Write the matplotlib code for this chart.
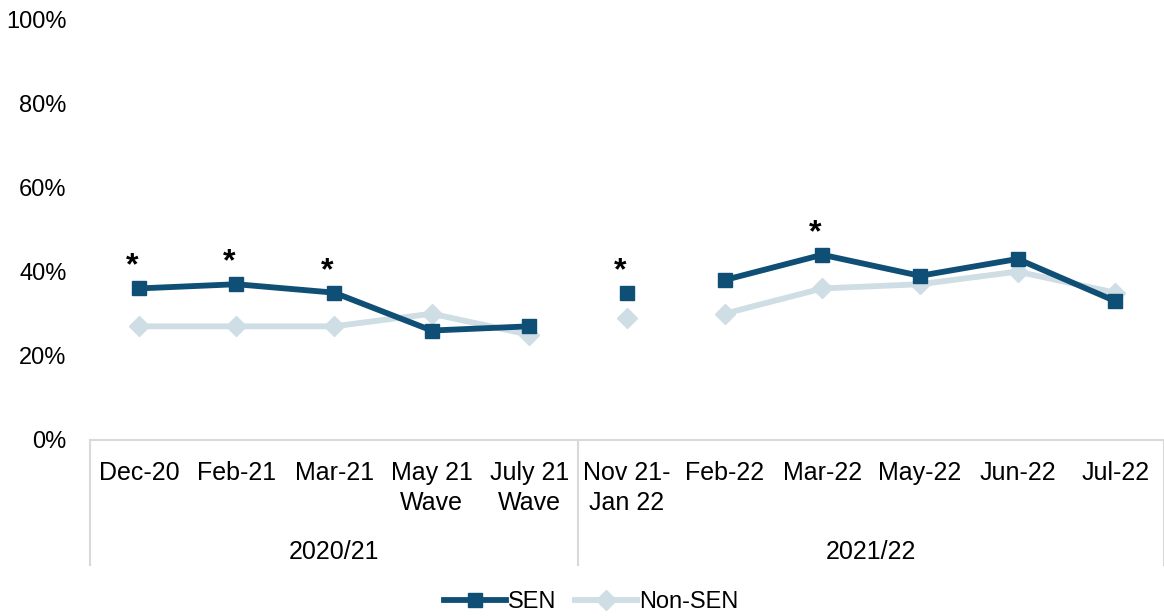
import numpy as np
import matplotlib.pyplot as plt

plt.rcParams['font.family'] = ['Liberation Sans', 'DejaVu Sans']

# Data
categories = ['Dec-20', 'Feb-21', 'Mar-21', 'May 21\nWave', 'July 21\nWave',
              'Nov 21-\nJan 22', 'Feb-22', 'Mar-22', 'May-22', 'Jun-22', 'Jul-22']
groups = ['2020/21', '2021/22']
group_sizes = [5, 6]
sen = np.array([36, 37, 35, 26, 27, 35, 38, 44, 39, 43, 33])
non_sen = np.array([27, 27, 27, 30, 25, 29, 30, 36, 37, 40, 35])
significant = [0, 1, 2, 5, 7]   # indices marked with *

# segments of connected points (Nov 21-Jan 22 stands alone)
segments = [(0, 5), (5, 6), (6, 11)]

sen_col = '#104F75'
non_col = '#CFDDE5'
axis_col = '#D9D9D9'

fig = plt.figure(figsize=(11.64, 6.16), dpi=100)
ax = fig.add_axes([90 / 1164, 176 / 616, 1074 / 1164, 421 / 616])

x = np.arange(len(categories))
for i, (a, b) in enumerate(segments):
    ax.plot(x[a:b], non_sen[a:b], color=non_col, lw=4.2, marker='D', ms=10,
            label='Non-SEN' if i == 0 else None, zorder=2)
    ax.plot(x[a:b], sen[a:b], color=sen_col, lw=4.2, marker='s', ms=10.5,
            label='SEN' if i == 0 else None, zorder=3)

for i in significant:
    ax.text(x[i] - 0.07, sen[i] + 1.6, '*', ha='center', va='bottom',
            fontsize=23, fontweight='bold', color='black')

ax.set_xlim(-0.5, len(categories) - 0.5)
ax.set_ylim(0, 100)
ax.set_yticks(np.arange(0, 101, 20))
ax.set_yticklabels([f'{v}%' for v in range(0, 101, 20)])
ax.tick_params(axis='y', length=0, pad=17, labelsize=17)
ax.set_xticks([])

for s in ['top', 'right', 'left']:
    ax.spines[s].set_visible(False)
ax.spines['bottom'].set_color(axis_col)
ax.spines['bottom'].set_linewidth(1.5)

# two-level category axis
tr = ax.get_xaxis_transform()
for i, lab in enumerate(categories):
    ax.text(x[i], -0.05, lab, transform=tr, ha='center', va='top',
            fontsize=18, linespacing=1.3)
edges = [-0.5]
for n in group_sizes:
    edges.append(edges[-1] + n)
for e in edges:
    ax.plot([e, e], [0, -0.297], transform=tr, color=axis_col, lw=1.5,
            clip_on=False)
for g, a, b in zip(groups, edges[:-1], edges[1:]):
    ax.text((a + b) / 2, -0.267, g, transform=tr, ha='center', va='center',
            fontsize=18)

handles, labels = ax.get_legend_handles_labels()
order = [labels.index('SEN'), labels.index('Non-SEN')]
fig.legend([handles[i] for i in order], [labels[i] for i in order],
           loc='center', bbox_to_anchor=(0.508, 0.022), ncol=2, frameon=False,
           fontsize=17, handlelength=2.6, handletextpad=0.1, columnspacing=0.8)

fig.savefig('out.png', dpi=100)
